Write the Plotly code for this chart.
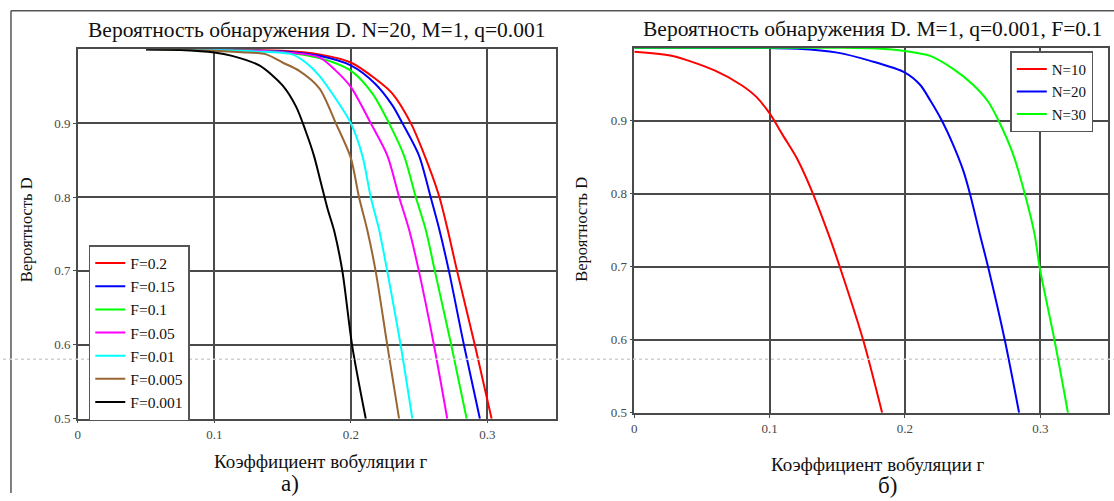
import plotly.graph_objects as go

# ---------------- data: left chart (N=20, M=1, q=0.001) ----------------
left_names = ["F=0.2", "F=0.15", "F=0.1", "F=0.05", "F=0.01", "F=0.005", "F=0.001"]
left_colors = ["#ff0000", "#0000ff", "#00ff00", "#ff00ff", "#00ffff", "#996633", "#000000"]

r_f02 = [0.05, 0.10, 0.15, 0.177, 0.20, 0.218, 0.2305, 0.244, 0.2524, 0.2646, 0.2707, 0.278, 0.291, 0.3032]
d_f02 = [1.0, 0.999, 0.998, 0.993, 0.982, 0.96, 0.94, 0.90, 0.864, 0.802, 0.758, 0.699, 0.599, 0.5]

r_f015 = [0.05, 0.10, 0.15, 0.177, 0.20, 0.218, 0.2305, 0.2378, 0.25, 0.2585, 0.2646, 0.272, 0.283, 0.2946]
d_f015 = [1.0, 0.999, 0.997, 0.991, 0.978, 0.953, 0.924, 0.90, 0.856, 0.80, 0.758, 0.699, 0.599, 0.5]

r_f01 = [0.05, 0.10, 0.15, 0.177, 0.20, 0.2159, 0.228, 0.239, 0.2476, 0.2549, 0.2617, 0.2737, 0.2849]
d_f01 = [1.0, 0.999, 0.996, 0.988, 0.971, 0.94, 0.90, 0.856, 0.80, 0.756, 0.699, 0.599, 0.5]

r_f005 = [0.05, 0.10, 0.15, 0.177, 0.189, 0.20, 0.2146, 0.2268, 0.2354, 0.2427, 0.25, 0.261, 0.2707]
d_f005 = [1.0, 0.999, 0.996, 0.989, 0.971, 0.949, 0.90, 0.856, 0.80, 0.756, 0.699, 0.599, 0.5]

r_f001 = [0.05, 0.10, 0.13, 0.157, 0.167, 0.177, 0.189, 0.20, 0.2085, 0.2146, 0.2207, 0.2268, 0.2366, 0.2451]
d_f001 = [1.0, 0.999, 0.997, 0.993, 0.982, 0.964, 0.933, 0.90, 0.856, 0.80, 0.756, 0.699, 0.599, 0.5]

r_f0005 = [0.05, 0.10, 0.12, 0.138, 0.15, 0.162, 0.177, 0.189, 0.20, 0.206, 0.212, 0.2183, 0.2268, 0.2354]
d_f0005 = [1.0, 0.998, 0.996, 0.993, 0.982, 0.971, 0.947, 0.90, 0.853, 0.80, 0.756, 0.699, 0.599, 0.5]

r_f0001 = [0.05, 0.075, 0.10, 0.113, 0.133, 0.15, 0.16, 0.167, 0.173, 0.178, 0.183, 0.188, 0.1939, 0.201, 0.211]
d_f0001 = [1.0, 0.999, 0.9956, 0.991, 0.978, 0.951, 0.922, 0.889, 0.856, 0.82, 0.784, 0.753, 0.699, 0.599, 0.5]

left_r = [r_f02, r_f015, r_f01, r_f005, r_f001, r_f0005, r_f0001]
left_d = [d_f02, d_f015, d_f01, d_f005, d_f001, d_f0005, d_f0001]

# ---------------- data: right chart (M=1, q=0.001, F=0.1) ----------------
right_names = ["N=10", "N=20", "N=30"]
right_colors = ["#ff0000", "#0000ff", "#00ff00"]

r_n10 = [0.0, 0.0275, 0.0593, 0.079, 0.09, 0.10, 0.1095, 0.1206, 0.1316, 0.1438, 0.152, 0.1692, 0.1831]
d_n10 = [0.9946, 0.989, 0.969, 0.949, 0.933, 0.910, 0.881, 0.847, 0.802, 0.743, 0.699, 0.599, 0.5]

r_n20 = [0.0, 0.10, 0.1206, 0.15, 0.1745, 0.20, 0.2113, 0.2186, 0.227, 0.2356, 0.243, 0.248, 0.2554, 0.2615, 0.2738, 0.2843]
d_n20 = [1.0, 0.9995, 0.9987, 0.9933, 0.982, 0.966, 0.949, 0.928, 0.901, 0.867, 0.832, 0.80, 0.744, 0.699, 0.599, 0.5]

r_n30 = [0.0, 0.15, 0.179, 0.20, 0.2186, 0.2356, 0.2505, 0.2615, 0.2689, 0.2799, 0.2885, 0.2958, 0.2995, 0.3105, 0.3204]
d_n30 = [1.0, 1.0, 0.999, 0.9955, 0.9888, 0.971, 0.949, 0.926, 0.901, 0.854, 0.80, 0.744, 0.699, 0.599, 0.5]

right_r = [r_n10, r_n20, r_n30]
right_d = [d_n10, d_n20, d_n30]

x_ticks = [0, 0.1, 0.2, 0.3]
x_ticktext = ["0", "0.1", "0.2", "0.3"]
y_ticks = [0.5, 0.6, 0.7, 0.8, 0.9]
y_ticktext = ["0.5", "0.6", "0.7", "0.8", "0.9"]

title_left = "Вероятность обнаружения D. N=20, M=1, q=0.001"
title_right = "Вероятность обнаружения D. M=1, q=0.001, F=0.1"
y_title = "Вероятность D"
x_title = "Коэффициент вобуляции г"

# ---------------- figure ----------------
W, H = 1114, 501
SERIF = "Liberation Serif"
GRID = "#4a4a4a"

fig = go.Figure()

for name, col, xs, ys in zip(left_names, left_colors, left_r, left_d):
    fig.add_trace(go.Scatter(x=xs, y=ys, mode="lines", name=name,
                             line=dict(color=col, width=2, shape="spline", smoothing=0.8),
                             xaxis="x", yaxis="y", legend="legend"))

for name, col, xs, ys in zip(right_names, right_colors, right_r, right_d):
    fig.add_trace(go.Scatter(x=xs, y=ys, mode="lines", name=name,
                             line=dict(color=col, width=2, shape="spline", smoothing=0.8),
                             xaxis="x2", yaxis="y2", legend="legend2"))


def px_x(p):
    return p / W


def px_y(p):
    return 1 - p / H


axis_common = dict(showline=True, mirror=True, linecolor=GRID, linewidth=1.5,
                   showgrid=True, gridcolor=GRID, gridwidth=1.5, zeroline=False,
                   ticks="outside", ticklen=3, tickcolor=GRID,
                   tickfont=dict(family=SERIF, size=13, color="#484848"))

fig.update_layout(
    width=W, height=H, autosize=False,
    margin=dict(l=0, r=0, t=0, b=0),
    paper_bgcolor="white", plot_bgcolor="rgba(0,0,0,0)",
    font=dict(family=SERIF),
    xaxis=dict(domain=[px_x(75), px_x(554)], range=[0, 0.35], tickvals=x_ticks,
               ticktext=x_ticktext, anchor="y", **axis_common),
    yaxis=dict(domain=[px_y(425.5), px_y(50)], range=[0.5, 1.0], tickvals=y_ticks,
               ticktext=y_ticktext, anchor="x", **axis_common),
    xaxis2=dict(domain=[px_x(633), px_x(1108)], range=[0, 0.35], tickvals=x_ticks,
                ticktext=x_ticktext, anchor="y2", **axis_common),
    yaxis2=dict(domain=[px_y(419.5), px_y(48.5)], range=[0.5, 1.0], tickvals=y_ticks,
                ticktext=y_ticktext, anchor="x2", **axis_common),
    legend=dict(x=px_x(86), y=px_y(249), xanchor="left", yanchor="top",
                bgcolor="white", bordercolor="#555555", borderwidth=1.5,
                font=dict(family=SERIF, size=15.5, color="#111111"),
                itemwidth=30, tracegroupgap=0),
    legend2=dict(x=px_x(1010), y=px_y(52), xanchor="left", yanchor="top",
                 bgcolor="white", bordercolor="#555555", borderwidth=1.5,
                 font=dict(family=SERIF, size=15, color="#111111"),
                 itemwidth=30, tracegroupgap=0),
    showlegend=True,
)

annots = [
    dict(text=title_left, x=px_x(314), y=px_y(30), size=21.5),
    dict(text=title_right, x=px_x(872), y=px_y(29), size=21.5),
    dict(text=x_title, x=px_x(319), y=px_y(469), size=19),
    dict(text=x_title, x=px_x(877), y=px_y(472), size=19),
    dict(text="а)", x=px_x(288), y=px_y(491), size=23),
    dict(text="б)", x=px_x(887), y=px_y(493), size=23),
]
for a in annots:
    fig.add_annotation(text=a["text"], x=a["x"], y=a["y"], xref="paper", yref="paper",
                       xanchor="center", yanchor="middle", showarrow=False,
                       font=dict(family=SERIF, size=a["size"], color="#111111"))

for xc, yc in [(23, 233), (580, 233)]:
    fig.add_annotation(text=y_title, x=px_x(xc), y=px_y(yc), xref="paper", yref="paper",
                       xanchor="center", yanchor="middle", showarrow=False, textangle=-90,
                       font=dict(family=SERIF, size=16.5, color="#111111"))

# panel frame lines and the faint dotted line
fig.add_shape(type="line", xref="paper", yref="paper", x0=px_x(8), x1=1, y0=px_y(11), y1=px_y(11),
              line=dict(color="#555555", width=1.5))
fig.add_shape(type="line", xref="paper", yref="paper", x0=px_x(8), x1=px_x(8), y0=0, y1=px_y(11),
              line=dict(color="#555555", width=1.5))
fig.add_shape(type="line", xref="paper", yref="paper", x0=0, x1=1, y0=px_y(365), y1=px_y(365),
              line=dict(color="#d0d0d0", width=1.5, dash="dot"), layer="above")

fig.write_html("out.html")
